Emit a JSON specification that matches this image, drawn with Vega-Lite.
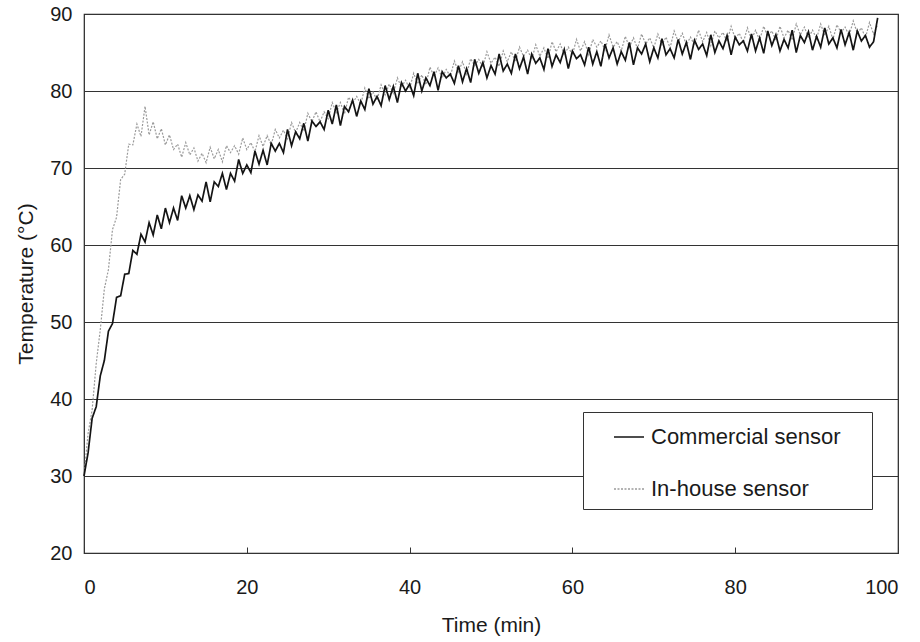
{
  "$schema": "https://vega.github.io/schema/vega-lite/v6.json",
  "autosize": {"type": "none"},
  "padding": {"left": 84, "top": 14, "right": 22, "bottom": 89},
  "width": 814,
  "height": 539,
  "background": "white",
  "config": {
    "font": "Liberation Sans",
    "view": {"stroke": "#222222", "strokeWidth": 1.2},
    "axis": {"labelFont": "Liberation Sans", "titleFont": "Liberation Sans", "labelColor": "#1a1a1a", "titleColor": "#1a1a1a", "titleFontWeight": "normal", "labelFontSize": 20, "titleFontSize": 21},
    "legend": {
      "orient": "none", "legendX": 499, "legendY": 398,
      "padding": 9, "strokeColor": "#333333", "fillColor": "white",
      "labelFont": "Liberation Sans", "labelFontSize": 22, "labelColor": "#1a1a1a", "labelLimit": 400,
      "symbolType": "stroke", "symbolSize": 900, "symbolStrokeWidth": 1.5, "symbolOffset": 21,
      "labelOffset": 6, "rowPadding": 25,
      "titleOrient": "right", "titlePadding": 20, "titleFontSize": 10, "titleColor": "white"
    }
  },
  "data": {"values": [
    {"t":0,"c":30.0,"h":30.0},{"t":0.5,"c":33.0,"h":35.5},{"t":1,"c":37.5,"h":38.6},{"t":1.5,"c":39.0,"h":44.6},{"t":2,"c":43.0,"h":49.0},{"t":2.5,"c":45.0,"h":54.3},{"t":3,"c":48.8,"h":56.8},{"t":3.5,"c":49.8,"h":62.0},{"t":4,"c":53.2,"h":63.6},{"t":4.5,"c":53.4,"h":68.5},
    {"t":5,"c":56.2,"h":69.2},{"t":5.5,"c":56.3,"h":73.1},{"t":6,"c":59.3,"h":73.0},{"t":6.5,"c":58.8,"h":75.7},{"t":7,"c":61.4,"h":74.1},{"t":7.5,"c":60.4,"h":78.0},{"t":8,"c":62.9,"h":74.3},{"t":8.5,"c":61.3,"h":76.0},{"t":9,"c":63.9,"h":73.8},{"t":9.5,"c":62.1,"h":75.1},
    {"t":10,"c":64.8,"h":73.0},{"t":10.5,"c":62.9,"h":74.3},{"t":11,"c":64.8,"h":72.4},{"t":11.5,"c":63.2,"h":73.1},{"t":12,"c":66.4,"h":71.4},{"t":12.5,"c":64.8,"h":73.3},{"t":13,"c":66.4,"h":71.7},{"t":13.5,"c":64.6,"h":72.6},{"t":14,"c":66.5,"h":70.9},{"t":14.5,"c":65.7,"h":71.9},
    {"t":15,"c":68.2,"h":70.7},{"t":15.5,"c":65.6,"h":72.7},{"t":16,"c":68.2,"h":71.2},{"t":16.5,"c":67.6,"h":72.4},{"t":17,"c":69.3,"h":70.8},{"t":17.5,"c":67.2,"h":72.9},{"t":18,"c":69.3,"h":72.0},{"t":18.5,"c":68.3,"h":72.9},{"t":19,"c":71.1,"h":71.8},{"t":19.5,"c":69.3,"h":73.9},
    {"t":20,"c":70.4,"h":72.4},{"t":20.5,"c":69.4,"h":73.3},{"t":21,"c":72.2,"h":72.1},{"t":21.5,"c":70.5,"h":74.2},{"t":22,"c":72.3,"h":72.8},{"t":22.5,"c":70.4,"h":74.2},{"t":23,"c":73.2,"h":73.0},{"t":23.5,"c":72.2,"h":75.0},{"t":24,"c":73.2,"h":73.9},{"t":24.5,"c":72.0,"h":74.9},
    {"t":25,"c":75.0,"h":73.8},{"t":25.5,"c":72.9,"h":75.9},{"t":26,"c":74.7,"h":74.6},{"t":26.5,"c":73.8,"h":75.9},{"t":27,"c":75.8,"h":74.8},{"t":27.5,"c":73.5,"h":77.1},{"t":28,"c":76.1,"h":76.0},{"t":28.5,"c":75.4,"h":77.3},{"t":29,"c":76.0,"h":76.0},{"t":29.5,"c":75.0,"h":77.3},
    {"t":30,"c":77.5,"h":76.4},{"t":30.5,"c":75.7,"h":78.5},{"t":31,"c":78.2,"h":77.2},{"t":31.5,"c":75.5,"h":78.5},{"t":32,"c":78.0,"h":77.0},{"t":32.5,"c":77.3,"h":79.2},{"t":33,"c":78.8,"h":78.4},{"t":33.5,"c":76.7,"h":79.3},{"t":34,"c":78.7,"h":78.3},{"t":34.5,"c":77.6,"h":80.4},
    {"t":35,"c":80.3,"h":79.0},{"t":35.5,"c":78.3,"h":79.9},{"t":36,"c":79.3,"h":78.8},{"t":36.5,"c":78.1,"h":80.8},{"t":37,"c":80.7,"h":79.5},{"t":37.5,"c":78.9,"h":80.9},{"t":38,"c":80.6,"h":79.7},{"t":38.5,"c":78.5,"h":81.7},{"t":39,"c":81.1,"h":80.5},{"t":39.5,"c":80.0,"h":81.4},
    {"t":40,"c":80.9,"h":80.3},{"t":40.5,"c":79.4,"h":82.3},{"t":41,"c":82.3,"h":80.9},{"t":41.5,"c":80.0,"h":82.1},{"t":42,"c":81.7,"h":80.8},{"t":42.5,"c":80.7,"h":83.1},{"t":43,"c":82.5,"h":81.9},{"t":43.5,"c":80.1,"h":83.0},{"t":44,"c":82.5,"h":81.7},{"t":44.5,"c":81.7,"h":82.8},
    {"t":45,"c":82.2,"h":81.9},{"t":45.5,"c":81.0,"h":83.9},{"t":46,"c":83.3,"h":82.5},{"t":46.5,"c":81.2,"h":83.8},{"t":47,"c":82.9,"h":82.2},{"t":47.5,"c":81.1,"h":84.2},{"t":48,"c":84.1,"h":83.3},{"t":48.5,"c":82.3,"h":84.1},{"t":49,"c":83.7,"h":83.1},{"t":49.5,"c":81.7,"h":85.1},
    {"t":50,"c":83.3,"h":83.6},{"t":50.5,"c":82.2,"h":84.4},{"t":51,"c":84.8,"h":83.2},{"t":51.5,"c":82.6,"h":85.2},{"t":52,"c":83.5,"h":83.8},{"t":52.5,"c":82.3,"h":85.1},{"t":53,"c":84.8,"h":83.8},{"t":53.5,"c":82.9,"h":85.7},{"t":54,"c":84.4,"h":84.5},{"t":54.5,"c":82.2,"h":85.3},
    {"t":55,"c":84.8,"h":84.1},{"t":55.5,"c":83.6,"h":86.0},{"t":56,"c":84.3,"h":84.5},{"t":56.5,"c":82.8,"h":85.6},{"t":57,"c":85.5,"h":84.2},{"t":57.5,"c":83.2,"h":86.4},{"t":58,"c":84.7,"h":85.1},{"t":58.5,"c":83.7,"h":86.1},{"t":59,"c":85.4,"h":84.7},{"t":59.5,"c":82.9,"h":85.7},
    {"t":60,"c":85.2,"h":84.7},{"t":60.5,"c":84.2,"h":86.7},{"t":61,"c":84.7,"h":85.2},{"t":61.5,"c":83.4,"h":86.4},{"t":62,"c":85.7,"h":84.7},{"t":62.5,"c":83.5,"h":86.7},{"t":63,"c":85.1,"h":85.7},{"t":63.5,"c":83.2,"h":86.5},{"t":64,"c":86.1,"h":85.3},{"t":64.5,"c":84.3,"h":87.3},
    {"t":65,"c":85.6,"h":85.7},{"t":65.5,"c":83.5,"h":86.4},{"t":66,"c":85.1,"h":85.2},{"t":66.5,"c":84.0,"h":87.1},{"t":67,"c":86.3,"h":85.7},{"t":67.5,"c":83.4,"h":86.9},{"t":68,"c":85.6,"h":85.5},{"t":68.5,"c":84.8,"h":87.4},{"t":69,"c":86.1,"h":86.1},{"t":69.5,"c":83.8,"h":86.9},
    {"t":70,"c":85.6,"h":85.6},{"t":70.5,"c":84.3,"h":87.4},{"t":71,"c":86.8,"h":86.0},{"t":71.5,"c":84.7,"h":87.0},{"t":72,"c":85.5,"h":85.6},{"t":72.5,"c":84.3,"h":87.8},{"t":73,"c":86.7,"h":86.4},{"t":73.5,"c":84.8,"h":87.5},{"t":74,"c":86.3,"h":86.0},{"t":74.5,"c":84.1,"h":87.0},
    {"t":75,"c":86.6,"h":86.0},{"t":75.5,"c":85.4,"h":87.9},{"t":76,"c":86.1,"h":86.4},{"t":76.5,"c":84.6,"h":87.6},{"t":77,"c":87.3,"h":85.9},{"t":77.5,"c":85.0,"h":87.8},{"t":78,"c":86.5,"h":86.9},{"t":78.5,"c":85.5,"h":87.6},{"t":79,"c":87.2,"h":86.4},{"t":79.5,"c":84.7,"h":88.4},
    {"t":80,"c":87.0,"h":86.8},{"t":80.5,"c":86.0,"h":87.5},{"t":81,"c":86.5,"h":86.3},{"t":81.5,"c":85.2,"h":88.2},{"t":82,"c":87.4,"h":86.7},{"t":82.5,"c":85.2,"h":87.9},{"t":83,"c":86.9,"h":86.6},{"t":83.5,"c":84.9,"h":88.4},{"t":84,"c":87.8,"h":87.1},{"t":84.5,"c":85.9,"h":87.8},
    {"t":85,"c":87.3,"h":86.6},{"t":85.5,"c":85.2,"h":88.4},{"t":86,"c":86.7,"h":86.9},{"t":86.5,"c":85.6,"h":87.9},{"t":87,"c":87.9,"h":86.6},{"t":87.5,"c":85.0,"h":88.7},{"t":88,"c":87.2,"h":87.3},{"t":88.5,"c":86.3,"h":88.3},{"t":89,"c":87.7,"h":86.9},{"t":89.5,"c":85.3,"h":87.9},
    {"t":90,"c":87.1,"h":86.8},{"t":90.5,"c":85.7,"h":88.7},{"t":91,"c":88.2,"h":87.2},{"t":91.5,"c":86.1,"h":88.4},{"t":92,"c":86.9,"h":86.7},{"t":92.5,"c":85.6,"h":88.6},{"t":93,"c":88.0,"h":87.6},{"t":93.5,"c":86.0,"h":88.3},{"t":94,"c":87.6,"h":87.2},{"t":94.5,"c":85.3,"h":89.1},
    {"t":95,"c":87.8,"h":87.5},{"t":95.5,"c":86.5,"h":88.2},{"t":96,"c":87.2,"h":86.9},{"t":96.5,"c":85.7,"h":88.9},{"t":97,"c":86.4,"h":87.4},{"t":97.5,"c":89.5,"h":88.6}
  ]},
  "transform": [{"fold": ["c", "h"], "as": ["sensor", "temp"]}],
  "encoding": {
    "x": {"field": "t", "type": "quantitative", "scale": {"domain": [0, 100]},
      "axis": {"title": "Time (min)", "values": [0, 20, 40, 60, 80, 100], "grid": false, "domain": false, "ticks": true, "tickSize": -6, "tickColor": "#333333", "labelPadding": 30, "titlePadding": 17}},
    "y": {"field": "temp", "type": "quantitative", "scale": {"domain": [20, 90]},
      "axis": {"title": "Temperature (°C)", "values": [20, 30, 40, 50, 60, 70, 80, 90], "grid": true, "gridColor": "#333333", "gridWidth": 1, "gridOpacity": 1, "domain": false, "ticks": false, "labelPadding": 12, "titlePadding": 13}},
    "color": {"field": "sensor", "type": "nominal", "scale": {"domain": ["c", "h"], "range": ["#141414", "#9a9a9a"]},
      "legend": {"title": ".", "labelExpr": "datum.value == 'c' ? 'Commercial sensor' : 'In-house sensor'"}},
    "strokeDash": {"field": "sensor", "type": "nominal", "scale": {"domain": ["c", "h"], "range": [[1, 0], [2, 1.5]]},
      "legend": {"title": ".", "labelExpr": "datum.value == 'c' ? 'Commercial sensor' : 'In-house sensor'"}}
  },
  "layer": [
    {"transform": [{"filter": "datum.sensor == 'h'"}], "mark": {"type": "line", "strokeWidth": 1.2}},
    {"transform": [{"filter": "datum.sensor == 'c'"}], "mark": {"type": "line", "strokeWidth": 1.7}}
  ]
}
